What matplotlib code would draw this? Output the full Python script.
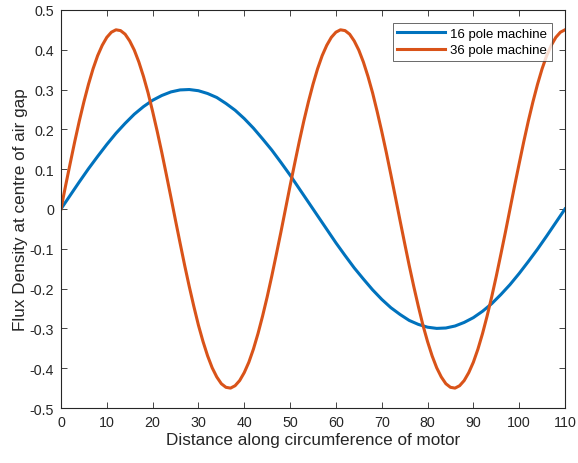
import matplotlib.pyplot as plt

# distance along the circumference of the motor
distance_16 = list(range(0, 112, 2))
distance_36 = list(range(0, 111))

flux_16_pole = [0, 0.034, 0.068, 0.101, 0.132, 0.162, 0.190, 0.215, 0.238, 0.257,
                0.273, 0.285, 0.294, 0.299, 0.300, 0.297, 0.290, 0.280, 0.265, 0.248,
                0.227, 0.203, 0.176, 0.148, 0.117, 0.085, 0.051, 0.017, -0.017, -0.051,
                -0.085, -0.117, -0.148, -0.176, -0.203, -0.227, -0.248, -0.265, -0.280, -0.290,
                -0.297, -0.300, -0.299, -0.294, -0.285, -0.273, -0.257, -0.238, -0.215, -0.190,
                -0.162, -0.132, -0.101, -0.068, -0.034, 0]

flux_36_pole = [0, 0.058, 0.114, 0.169, 0.221, 0.269, 0.313, 0.352, 0.385, 0.411,
                0.431, 0.444, 0.450, 0.448, 0.439, 0.422, 0.399, 0.369, 0.333, 0.292,
                0.245, 0.195, 0.142, 0.086, 0.029, -0.029, -0.086, -0.142, -0.195, -0.245,
                -0.292, -0.333, -0.369, -0.399, -0.422, -0.439, -0.448, -0.450, -0.444, -0.431,
                -0.411, -0.385, -0.352, -0.313, -0.269, -0.221, -0.169, -0.114, -0.058, 0,
                0.058, 0.114, 0.169, 0.221, 0.269, 0.313, 0.352, 0.385, 0.411, 0.431,
                0.444, 0.450, 0.448, 0.439, 0.422, 0.399, 0.369, 0.333, 0.292, 0.245,
                0.195, 0.142, 0.086, 0.029, -0.029, -0.086, -0.142, -0.195, -0.245, -0.292,
                -0.333, -0.369, -0.399, -0.422, -0.439, -0.448, -0.450, -0.444, -0.431, -0.411,
                -0.385, -0.352, -0.313, -0.269, -0.221, -0.169, -0.114, -0.058, 0, 0.058,
                0.114, 0.169, 0.221, 0.269, 0.313, 0.352, 0.385, 0.411, 0.431, 0.444,
                0.450]

labels = ["16 pole machine", "36 pole machine"]
x_ticks = list(range(0, 120, 10))
y_ticks = [-0.5, -0.4, -0.3, -0.2, -0.1, 0, 0.1, 0.2, 0.3, 0.4, 0.5]
y_tick_labels = ["-0.5", "-0.4", "-0.3", "-0.2", "-0.1", "0", "0.1", "0.2", "0.3", "0.4", "0.5"]

plt.rcParams["font.family"] = ["Liberation Sans", "DejaVu Sans"]

fig = plt.figure(figsize=(5.78, 4.64), dpi=100)
ax = fig.add_axes([0.1055, 0.1185, 0.872, 0.858])

ax.plot(distance_16, flux_16_pole, color="#0072BD", lw=2.2, label=labels[0])
ax.plot(distance_36, flux_36_pole, color="#D95319", lw=2.2, label=labels[1])

ax.set_xlim(0, 110)
ax.set_ylim(-0.5, 0.5)
ax.set_xticks(x_ticks)
ax.set_yticks(y_ticks)
ax.set_yticklabels(y_tick_labels)
ax.tick_params(direction="in", length=4, width=0.6, labelsize=10.3, colors="#262626",
               top=True, right=True, pad=5)
for s in ax.spines.values():
    s.set_linewidth(0.8)
    s.set_color("#262626")

ax.set_xlabel("Distance along circumference of motor", fontsize=12.3, color="#262626", labelpad=2)
ax.set_ylabel("Flux Density at centre of air gap", fontsize=12.3, color="#262626", labelpad=1)

leg = ax.legend(loc="upper right", fontsize=9.5, frameon=True, fancybox=False,
                edgecolor="#262626", handlelength=3.6, borderpad=0.35,
                labelspacing=0.3, handletextpad=0.4, borderaxespad=1.0)
leg.get_frame().set_linewidth(0.6)

fig.savefig("out.png", dpi=100)
